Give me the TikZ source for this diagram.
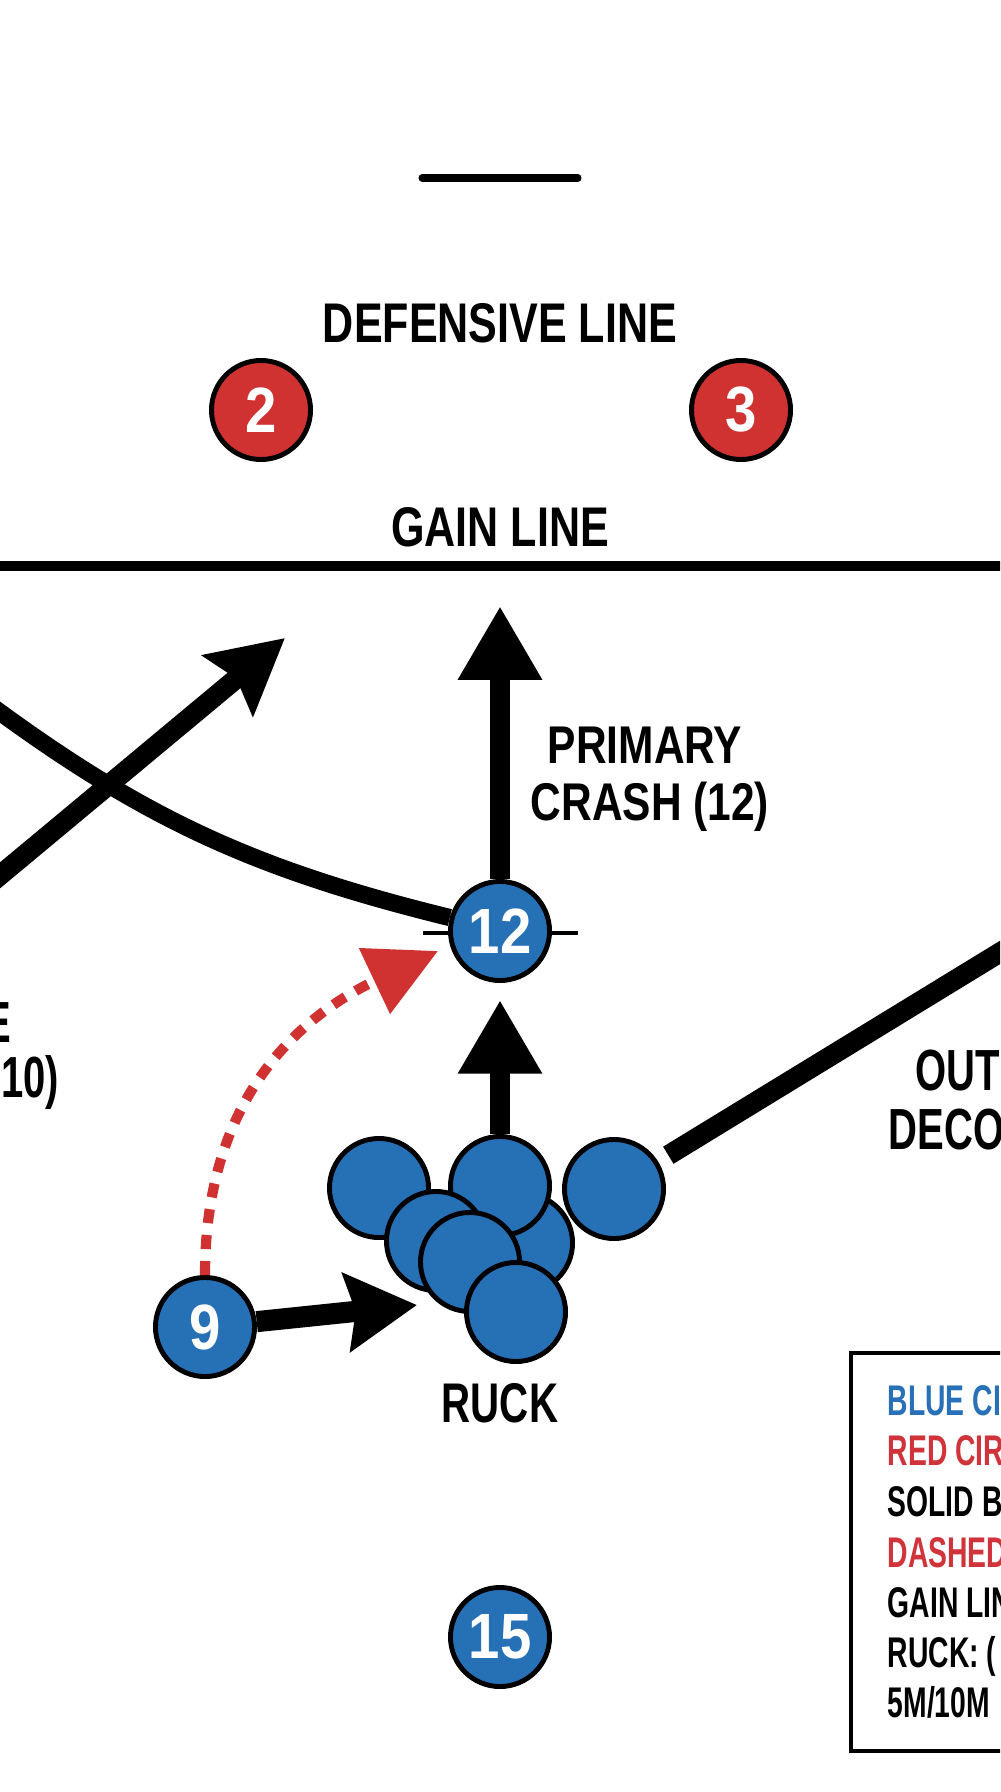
\documentclass[tikz,border=0pt]{standalone}
\usepackage{fontspec}
\setmainfont{Liberation Sans}
\newfontfamily\fDef[FakeStretch=0.77]{Liberation Sans Bold}
\newfontfamily\fRuck[FakeStretch=0.72]{Liberation Sans Bold}
\newfontfamily\fPrim[FakeStretch=0.80]{Liberation Sans Bold}
\newfontfamily\fSide[FakeStretch=0.69]{Liberation Sans Bold}
\newfontfamily\fLeg[FakeStretch=0.66]{Liberation Sans Bold}
\newfontfamily\fNum[FakeStretch=0.88]{Liberation Sans Bold}
\usetikzlibrary{arrows.meta}
\definecolor{tblue}{RGB}{38,112,182}
\definecolor{tred}{RGB}{208,50,50}
\definecolor{legblue}{RGB}{40,112,184}
\definecolor{legred}{RGB}{208,52,58}
\tikzset{
  player/.style={circle, draw=black, line width=1.4pt, minimum size=0.99cm, inner sep=0pt,
    text=white, font=\fNum\fontsize{18.2pt}{20pt}\selectfont},
  att/.style={player, fill=tblue},
  defp/.style={player, fill=tred},
  ruckp/.style={circle, draw=black, line width=1.4pt, minimum size=0.99cm, inner sep=0pt, fill=tblue},
  biglab/.style={anchor=base, inner sep=0pt, font=\fDef\fontsize{15.9pt}{18pt}\selectfont},
  primlab/.style={anchor=base, inner sep=0pt, font=\fPrim\fontsize{15.1pt}{18pt}\selectfont},
  ruckl/.style={anchor=base, inner sep=0pt, font=\fRuck\fontsize{15.9pt}{18pt}\selectfont},
  sidelab/.style={inner sep=0pt, font=\fSide\fontsize{16.5pt}{18pt}\selectfont},
  leglab/.style={anchor=base west, inner sep=0pt, font=\fLeg\fontsize{12.2pt}{14pt}\selectfont},
  runline/.style={line width=5.7pt},
  bigtri/.style={-{Triangle[length=21pt,width=22.5pt]}},
  bigstealth/.style={-{Stealth[length=21pt,width=22pt,inset=3pt]}},
}
\begin{document}
\begin{tikzpicture}[x=0.01cm,y=-0.01cm]
\useasboundingbox (0,0) rectangle (1000,1792);
\clip (0,0) rectangle (1000,1792);
\fill[white] (0,0) rectangle (1000,1792);

% top short line
\coordinate (tl1) at (422,178);
\coordinate (tl2) at (578,178);
\draw[line width=2pt, line cap=round] (tl1) -- (tl2);

% defensive line
\node[biglab] (deflab) at (500,343) {DEFENSIVE LINE};
\node[defp] (d2) at (261,410) {2};
\node[defp] (d3) at (741,410) {3};

% gain line
\node[biglab] (gainlab) at (500,547) {GAIN LINE};
\coordinate (gl1) at (-10,566);
\coordinate (gl2) at (1010,566);
\draw[line width=2.85pt] (gl1) -- (gl2);

% tick through 12
\coordinate (tk1) at (423,933);
\coordinate (tk2) at (578,933);
\draw[line width=1.1pt] (tk1) -- (tk2);

% players
\node[att] (p12) at (500,931) {12};
\node[att] (p9) at (205,1327) {9};
\node[att] (p15) at (500,1637) {15};

% ruck
\node[ruckp] (rb) at (523,1243) {};
\node[ruckp] (r1) at (379,1188) {};
\node[ruckp] (r2) at (500,1186) {};
\node[ruckp] (r3) at (614,1189) {};
\node[ruckp] (r4) at (436,1241) {};
\node[ruckp] (r5) at (470,1262) {};
\node[ruckp] (r6) at (516,1312) {};
\node[ruckl] (rucklab) at (500,1422) {RUCK};

% curved line into 12
\coordinate (cvs) at (-30,690);
\draw[line width=4.9pt] (cvs) .. controls (136,815) and (248,868) .. (p12.165);

% straight diagonal arrow
\coordinate (dgs) at (-50,917);
\coordinate (dge) at (285,638);
\draw[runline, bigstealth] (dgs) -- (dge);

% primary crash arrow
\coordinate (pct) at (500,606);
\draw[runline, bigtri] (p12.north) -- (pct);
\node[primlab] (prim1) at (645,763) {PRIMARY};
\node[primlab] (prim2) at (650,820) {CRASH (12)};

% ruck to 12 arrow
\draw[runline, bigtri, shorten >=4.8pt] (r2.north) -- (p12.south);

% 9 to ruck
\coordinate (ruckin) at (417,1305);
\draw[line width=6pt, -{Stealth[length=20pt,width=22pt,inset=2.5pt]}] (p9) -- (ruckin);

% red dashed
\coordinate (redtip) at (438,951);
\draw[color=tred, line width=2.9pt, dash pattern=on 4pt off 3.4pt,
      -{Triangle[length=20pt,width=20pt,sep=0pt]}]
  (p9.north) .. controls (205,1105) and (292,1020) .. (redtip);

% outside decoy line
\coordinate (dce) at (1040,928);
\draw[runline, shorten <=3.4pt] (r3.32) -- (dce);
\node[sidelab, anchor=base west] (out1) at (915,1090) {OUTSIDE};
\node[sidelab, anchor=base west] (out2) at (888,1149) {DECOY};

% left label fragments
\node[sidelab, anchor=base east] (lf1) at (12,1042) {E};
\node[sidelab, anchor=base east] (lf2) at (60,1097) {10)};

% legend
\draw[line width=1.15pt] (851,1353) rectangle (1030,1751);
\node[leglab, text=legblue] (lg1) at (887,1415) {BLUE CIRCLES};
\node[leglab, text=legred] (lg2) at (887,1465) {RED CIRCLES};
\node[leglab] (lg3) at (887,1516) {SOLID BLACK};
\node[leglab, text=legred] (lg4) at (887,1567) {DASHED RED};
\node[leglab] (lg5) at (887,1617) {GAIN LINE};
\node[leglab] (lg6) at (887,1667) {RUCK: (};
\node[leglab] (lg7) at (887,1717) {5M/10M};
\end{tikzpicture}
\end{document}
